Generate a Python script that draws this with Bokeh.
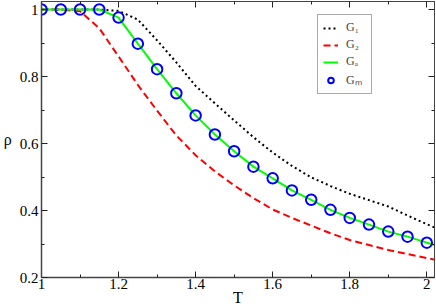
from bokeh.plotting import figure
from bokeh.models import Range1d, FixedTicker, CustomJSTickFormatter, LinearAxis, Legend, LegendItem
from bokeh.embed import file_html
from bokeh.resources import INLINE

# ---- data ----
T_line = [1.00, 1.05, 1.10, 1.15, 1.20, 1.25, 1.30, 1.35, 1.40, 1.45, 1.50,
          1.55, 1.60, 1.65, 1.70, 1.75, 1.80, 1.85, 1.90, 1.95, 2.00, 2.05]
g1 = [1.0, 1.0, 1.0, 1.0, 0.996, 0.970, 0.908, 0.842, 0.772, 0.720, 0.669,
      0.619, 0.573, 0.533, 0.499, 0.473, 0.450, 0.431, 0.412, 0.385, 0.359, 0.335]
g2 = [1.0, 1.0, 0.995, 0.944, 0.860, 0.775, 0.698, 0.624, 0.565, 0.517, 0.475,
      0.437, 0.403, 0.378, 0.355, 0.332, 0.312, 0.297, 0.282, 0.270, 0.258, 0.246]
ga = [1.0, 1.0, 1.0, 1.0, 0.976, 0.898, 0.822, 0.750, 0.684, 0.627, 0.577,
      0.531, 0.496, 0.460, 0.432, 0.402, 0.378, 0.358, 0.337, 0.322, 0.304, 0.288]
T_m = [1.00, 1.05, 1.10, 1.15, 1.20, 1.25, 1.30, 1.35, 1.40, 1.45, 1.50,
       1.55, 1.60, 1.65, 1.70, 1.75, 1.80, 1.85, 1.90, 1.95, 2.00]
gm = [1.0, 1.0, 1.0, 1.0, 0.976, 0.898, 0.822, 0.750, 0.684, 0.627, 0.577,
      0.531, 0.496, 0.460, 0.432, 0.402, 0.378, 0.358, 0.337, 0.322, 0.304]

x_major = [1.0, 1.2, 1.4, 1.6, 1.8, 2.0]
x_minor = [1.1, 1.3, 1.5, 1.7, 1.9]
y_major = [0.2, 0.4, 0.6, 0.8, 1.0]
y_minor = [0.3, 0.5, 0.7, 0.9]

labels = ["G\u2081", "G\u2082", "G\u2090", "G\u2098"]

FONT = "Liberation Serif"

p = figure(width=436, height=308, output_backend="svg", toolbar_location=None,
           x_range=Range1d(1.0, 2.02), y_range=Range1d(0.2, 1.024),
           min_border_left=40, min_border_right=2, min_border_top=1, min_border_bottom=0,
           background_fill_color="white", border_fill_color="white")
p.grid.visible = False
p.outline_line_color = "#333333"
p.outline_line_width = 1

fmt = CustomJSTickFormatter(code="return (Math.round(tick*10)/10).toString();")
blank = CustomJSTickFormatter(code="return '';")

p.xaxis.ticker = FixedTicker(ticks=x_major, minor_ticks=x_minor)
p.yaxis.ticker = FixedTicker(ticks=y_major, minor_ticks=y_minor)
for ax in (p.xaxis[0], p.yaxis[0]):
    ax.formatter = fmt
    ax.major_tick_in = 6
    ax.major_tick_out = 0
    ax.minor_tick_in = 3
    ax.minor_tick_out = 0
    ax.major_tick_line_color = "#222222"
    ax.minor_tick_line_color = "#222222"
    ax.axis_line_color = "#444444"
    ax.axis_line_width = 1.5
    ax.major_label_text_font = FONT
    ax.major_label_text_font_size = "15px"
    ax.major_label_text_color = "black"
    ax.axis_label_text_font = FONT
    ax.axis_label_text_font_style = "normal"
    ax.axis_label_text_font_size = "16px"
    ax.axis_label_text_color = "black"
p.xaxis.axis_label = "T"
p.yaxis.axis_label = "\u03c1"
p.xaxis.major_label_standoff = 1
p.xaxis.axis_label_standoff = -3
p.yaxis.major_label_standoff = 3
p.yaxis.axis_label_standoff = 5
p.yaxis.axis_label_orientation = "horizontal"

for loc, tk in (("above", FixedTicker(ticks=x_major, minor_ticks=x_minor)),
                ("right", FixedTicker(ticks=y_major, minor_ticks=y_minor))):
    ax = LinearAxis(ticker=tk, formatter=blank, major_label_standoff=0,
                    major_tick_in=6, major_tick_out=0, minor_tick_in=3, minor_tick_out=0,
                    major_tick_line_color="#222222", minor_tick_line_color="#222222",
                    axis_line_color="#444444", axis_line_width=1.0)
    p.add_layout(ax, loc)

r1 = p.line(T_line, g1, line_color="black", line_width=2, line_dash="2 3")
r2 = p.line(T_line, g2, line_color="#ff0000", line_width=2, line_dash="7 4")
ra = p.line(T_line, ga, line_color="#00ff00", line_width=2)
rm = p.scatter(T_m, gm, marker="circle", size=10.5, line_color="#0000ff", line_width=2,
               fill_color=None)

legend = Legend(items=[LegendItem(label=labels[0], renderers=[r1]),
                       LegendItem(label=labels[1], renderers=[r2]),
                       LegendItem(label=labels[2], renderers=[ra]),
                       LegendItem(label=labels[3], renderers=[rm])],
                location=(276, 183))
legend.label_text_font = FONT
legend.label_text_font_size = "12px"
legend.label_height = 14
legend.glyph_height = 14
legend.glyph_width = 15
legend.label_standoff = 8
legend.spacing = 2
legend.padding = 5
legend.margin = 0
legend.border_line_color = "#555555"
legend.border_line_width = 1
legend.background_fill_color = "white"
legend.background_fill_alpha = 1
p.add_layout(legend, "center")

open("out.html", "w").write(file_html(p, INLINE))
